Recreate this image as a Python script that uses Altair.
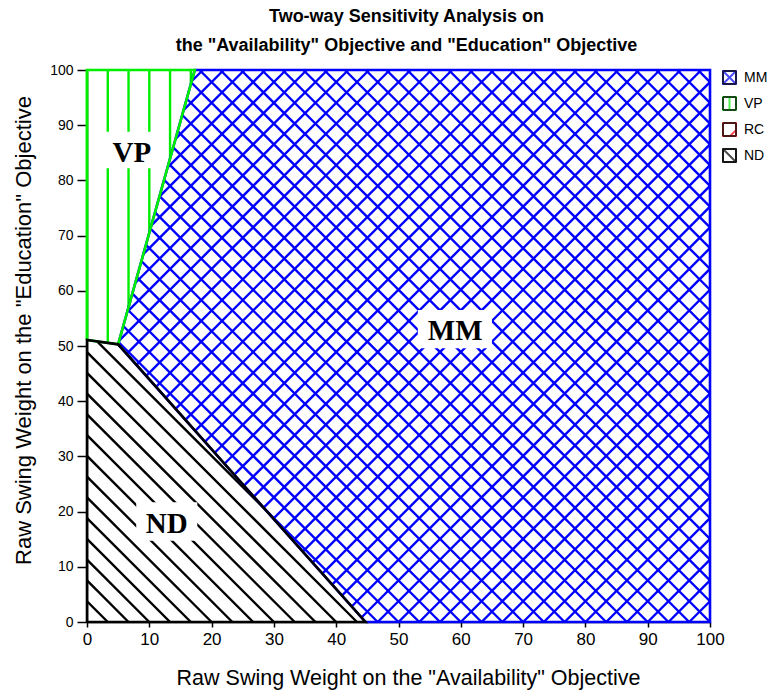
import math
import altair as alt
import pandas as pd

# ---------------- data ----------------
TITLE_LINES = ["Two-way Sensitivity Analysis on",
               "the \"Availability\" Objective and \"Education\" Objective"]
X_TITLE = 'Raw Swing Weight on the "Availability" Objective'
Y_TITLE = 'Raw Swing Weight on the "Education" Objective'
AXIS_TICKS = [0, 10, 20, 30, 40, 50, 60, 70, 80, 90, 100]

# region boundary vertices (x = Availability weight, y = Education weight)
MM_X = [44.7, 5.0, 17.3, 100.0, 100.0]
MM_Y = [0.0, 50.3, 100.0, 100.0, 0.0]
VP_X = [0.0, 0.0, 17.3, 5.0]
VP_Y = [51.1, 100.0, 100.0, 50.3]
ND_X = [0.0, 0.0, 5.0, 44.7]
ND_Y = [0.0, 51.1, 50.3, 0.0]

LEGEND_CATS = ["MM", "VP", "RC", "ND"]
LEGEND_COLORS = ["#0000ff", "#00ee00", "#ff0000", "#000000"]

LABELS = ["MM", "VP", "ND"]
LABEL_X = [59.1, 7.2, 12.8]
LABEL_Y = [51.1, 83.3, 16.1]
BOX_X1 = [53.1, 2.7, 7.9]
BOX_X2 = [65.0, 11.7, 17.7]
BOX_Y1 = [49.6, 82.2, 14.7]
BOX_Y2 = [56.5, 88.8, 21.7]

# ---------------- layout / style ----------------
W, H = 623, 552
SX, SY = W / 100.0, H / 100.0
PERIOD = W / 30.0  # hatch spacing in pixels

BLUE, GREEN, BLACK = "#0000ff", "#00ee00", "#000000"
SANS = "Liberation Sans"
SERIF = "Liberation Serif"


def clip_line(poly, a, b, c):
    pts = []
    n = len(poly)
    for i in range(n):
        (x1, y1), (x2, y2) = poly[i], poly[(i + 1) % n]
        f1 = a * x1 + b * y1 - c
        f2 = a * x2 + b * y2 - c
        if f1 == 0:
            pts.append((x1, y1))
        if f1 * f2 < 0:
            t = f1 / (f1 - f2)
            pts.append((x1 + t * (x2 - x1), y1 + t * (y2 - y1)))
    if len(pts) < 2:
        return None
    pts.sort(key=lambda p: -b * p[0] + a * p[1])
    p, q = pts[0], pts[-1]
    if abs(p[0] - q[0]) < 1e-9 and abs(p[1] - q[1]) < 1e-9:
        return None
    return p, q


def hatch(xs, ys, a, b):
    poly = list(zip(xs, ys))
    vals = [a * x + b * y for x, y in poly]
    k0 = math.floor(min(vals) / PERIOD)
    k1 = math.ceil(max(vals) / PERIOD)
    rows = []
    for k in range(k0, k1 + 1):
        seg = clip_line(poly, a, b, k * PERIOD)
        if seg:
            (px, py), (qx, qy) = seg
            rows.append({"x": px, "y": py, "x2": qx, "y2": qy})
    return pd.DataFrame(rows)


def outline(xs, ys):
    xx = list(xs) + [xs[0]]
    yy = list(ys) + [ys[0]]
    return pd.DataFrame({"x": xx, "y": yy, "i": list(range(len(xx)))})


XSCALE = alt.Scale(domain=[0, 100], nice=False, zero=False)
YSCALE = alt.Scale(domain=[0, 100], nice=False, zero=False)
XAXIS = alt.Axis(values=AXIS_TICKS, format="d", title=X_TITLE, grid=False,
                 labelFont=SANS, labelFontSize=17, labelColor=BLACK,
                 labelPadding=4, labelFlush=False,
                 tickSize=5, tickColor=BLACK, tickWidth=1.5,
                 domainColor=BLACK, domainWidth=1.5,
                 titleFont=SANS, titleFontSize=21.5, titleFontWeight="normal",
                 titleColor=BLACK, titlePadding=20, titleX=321)
YAXIS = alt.Axis(values=AXIS_TICKS, format="d", title=Y_TITLE, grid=False,
                 labelFont=SANS, labelFontSize=14, labelColor=BLACK,
                 labelPadding=4, labelFlush=False,
                 tickSize=10, tickColor=BLACK, tickWidth=1.5,
                 domainColor=BLACK, domainWidth=1.5,
                 titleFont=SANS, titleFontSize=22, titleFontWeight="normal",
                 titleColor=BLACK, titlePadding=14, titleY=260)


def xe(f="x"):
    return alt.X(f, type="quantitative", scale=XSCALE, axis=XAXIS)


def ye(f="y"):
    return alt.Y(f, type="quantitative", scale=YSCALE, axis=YAXIS)


def hatch_layer(df, color):
    return alt.Chart(df).mark_rule(color=color, strokeWidth=2.4).encode(
        x=xe(), y=ye(), x2="x2", y2="y2")


def outline_layer(df, color, width):
    return alt.Chart(df).mark_line(color=color, strokeWidth=width, strokeJoin="miter").encode(
        x=xe(), y=ye(), order=alt.Order("i:Q"))


mm_a = hatch(MM_X, MM_Y, SX, -SY)
mm_b = hatch(MM_X, MM_Y, SX, SY)
nd_h = hatch(ND_X, ND_Y, SX, SY)
vp_h = hatch(VP_X, VP_Y, SX, 0.0)

labels_df = pd.DataFrame({"label": LABELS, "x": LABEL_X, "y": LABEL_Y,
                          "bx1": BOX_X1, "bx2": BOX_X2, "by1": BOX_Y1, "by2": BOX_Y2})

boxes = alt.Chart(labels_df).mark_rect(color="white").encode(
    x=xe("bx1"), x2="bx2", y=ye("by1"), y2="by2")
texts = alt.Chart(labels_df).mark_text(font=SERIF, fontWeight="bold", fontSize=29,
                                       baseline="alphabetic", align="center",
                                       color=BLACK).encode(
    x=xe(), y=ye(), text="label:N")

# legend (dummy, clipped points) -------------------------------------------
BOX_PATH = "M-1,-1H1V1H-1Z"
INNER_PATHS = [BOX_PATH + "M-1,-1L1,1M1,-1L-1,1",
               BOX_PATH + "M0,-1V1",
               BOX_PATH + "M1,0.1L0.1,1",
               BOX_PATH + "M-1,-1L1,1"]
BOX_KEYS = ["k1", "k2", "k3", "k4"]
leg_df = pd.DataFrame({"cat": LEGEND_CATS, "box": BOX_KEYS,
                       "x": [-1000.0] * 4, "y": [-1000.0] * 4})
LEG_COMMON = dict(orient="none", legendX=635, legendY=0, title=None,
                  symbolSize=169, labelFont=SANS, labelFontSize=14,
                  labelColor=BLACK, labelOffset=7, rowPadding=5, padding=0,
                  symbolFillColor="transparent", symbolStrokeWidth=2)
legend_layer = alt.Chart(leg_df).mark_point(filled=False, clip=True, strokeWidth=2).encode(
    x=xe(), y=ye(),
    shape=alt.Shape("cat:N", scale=alt.Scale(domain=LEGEND_CATS, range=INNER_PATHS),
                    legend=alt.Legend(**LEG_COMMON)),
    stroke=alt.Stroke("cat:N", scale=alt.Scale(domain=LEGEND_CATS, range=LEGEND_COLORS),
                      legend=alt.Legend(**LEG_COMMON)),
    strokeDash=alt.StrokeDash("box:N", scale=alt.Scale(domain=BOX_KEYS,
                                                       range=[[1, 0]] * 4),
                              legend=alt.Legend(symbolType=BOX_PATH,
                                                symbolStrokeColor=BLACK,
                                                labelExpr="'\u00a0'", **LEG_COMMON)),
)

chart = alt.layer(
    hatch_layer(mm_a, BLUE),
    hatch_layer(mm_b, BLUE),
    hatch_layer(nd_h, BLACK),
    hatch_layer(vp_h, GREEN),
    outline_layer(outline(MM_X, MM_Y), BLUE, 2.6),
    outline_layer(outline(VP_X, VP_Y), GREEN, 2.6),
    outline_layer(outline(ND_X, ND_Y), BLACK, 2.6),
    boxes,
    texts,
    legend_layer,
).properties(
    width=W, height=H,
    title=alt.TitleParams(text=TITLE_LINES, font=SANS, fontSize=18, fontWeight="bold",
                          lineHeight=29, anchor="middle", offset=8, dx=8, color=BLACK),
    autosize=alt.AutoSizeParams(type="none"),
    padding={"left": 87, "top": 70, "right": 57, "bottom": 72},
).configure_view(strokeWidth=0).configure(background="white")

chart.save("out.html", embed_options={"renderer": "svg", "actions": False})
